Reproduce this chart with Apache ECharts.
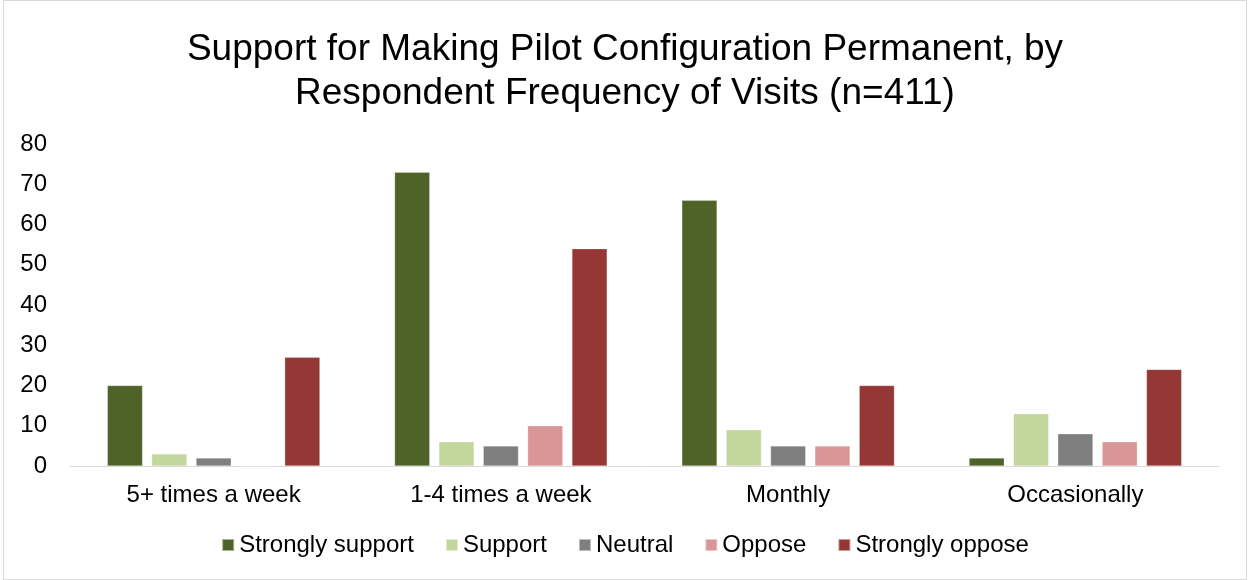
<!DOCTYPE html>
<html>
<head>
<meta charset="utf-8">
<script src="https://cdn.jsdelivr.net/npm/echarts@6/dist/echarts.min.js"></script>
<style>
  html, body { margin: 0; padding: 0; background: #fff; }
  #main { position: absolute; left: 3px; top: 0; width: 1242px; height: 578px; border: 1px solid #d9d9d9; }
</style>
</head>
<body>
<div id="main"></div>
<script>
// chart data
const categories = ['5+ times a week', '1-4 times a week', 'Monthly', 'Occasionally']
const strongSupport = [20, 73, 66, 2]
const support = [3, 6, 9, 13]
const neutral = [2, 5, 5, 8]
const oppose = [0, 10, 5, 6]
const strongOppose = [27, 54, 20, 24]
const seriesNames = ['Strongly support', 'Support', 'Neutral', 'Oppose', 'Strongly oppose']
const colors = ['#4F6228', '#C3D69B', '#7F7F7F', '#D99694', '#953735']

const chart = echarts.init(document.getElementById('main'))
const font = 'Liberation Sans, Arial, sans-serif'

const allData = [strongSupport, support, neutral, oppose, strongOppose]

const option = {
    backgroundColor: '#fff',
    color: colors,
    animation: false,
    title: {
        text: 'Support for Making Pilot Configuration Permanent, by\nRespondent Frequency of Visits (n=411)',
        left: 'center',
        top: 22,
        textStyle: {
            fontFamily: font,
            fontWeight: 'normal',
            fontSize: 37,
            lineHeight: 44,
            color: '#000'
        }
    },
    legend: {
        bottom: 17,
        left: 'center',
        itemWidth: 12,
        itemHeight: 12,
        itemGap: 31,
        icon: 'rect',
        textStyle: { fontFamily: font, fontSize: 24, color: '#000', padding: [0, 0, 0, 0] },
        data: seriesNames
    },
    grid: {
        left: 66,
        right: 27,
        top: 143,
        bottom: 113
    },
    xAxis: {
        type: 'category',
        data: categories,
        axisLine: { lineStyle: { color: '#d9d9d9', width: 1 } },
        axisTick: { show: false },
        axisLabel: { fontFamily: font, fontSize: 24, color: '#000', margin: 17 }
    },
    yAxis: {
        type: 'value',
        min: 0,
        max: 80,
        interval: 10,
        splitLine: { show: false },
        axisLine: { show: false },
        axisTick: { show: false },
        axisLabel: { fontFamily: font, fontSize: 24, color: '#000', margin: 23 }
    },
    series: seriesNames.map((name, i) => ({
        name: name,
        type: 'bar',
        data: allData[i],
        barGap: '26%',
        barCategoryGap: '26%',
        itemStyle: { color: colors[i], borderColor: 'rgba(255,255,255,0.5)', borderWidth: 0.5 }
    }))
}

chart.setOption(option)
</script>
</body>
</html>
